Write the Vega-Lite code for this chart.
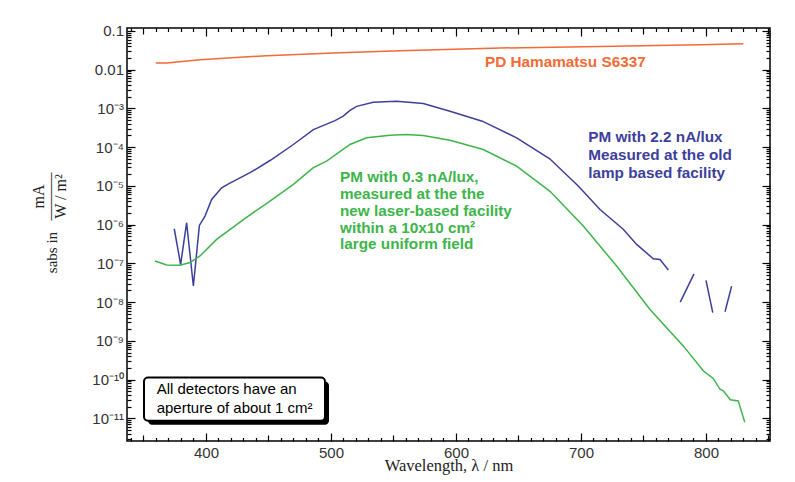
{
  "$schema": "https://vega.github.io/schema/vega-lite/v6.json",
  "width": 643,
  "height": 413,
  "autosize": {"type": "none"},
  "padding": {"left": 127, "top": 28, "right": 25, "bottom": 41},
  "background": "white",
  "config": {
    "view": {"stroke": "#000", "strokeWidth": 1.5},
    "axis": {
      "domain": false,
      "grid": false,
      "labelFont": "Liberation Sans",
      "labelFontSize": 15,
      "labelColor": "#333",
      "tickColor": "#000",
      "tickWidth": 1.2
    }
  },
  "datasets": {
    "lines": [
      {"s": "PD", "w": 359.8, "v": 0.0149},
      {"s": "PD", "w": 368.6, "v": 0.0149},
      {"s": "PD", "w": 395.2, "v": 0.0181},
      {"s": "PD", "w": 448.6, "v": 0.023},
      {"s": "PD", "w": 501.8, "v": 0.0269},
      {"s": "PD", "w": 555.2, "v": 0.0309},
      {"s": "PD", "w": 635.2, "v": 0.0362},
      {"s": "PD", "w": 715.2, "v": 0.0398},
      {"s": "PD", "w": 795.2, "v": 0.044},
      {"s": "PD", "w": 829.8, "v": 0.0468},
      {"s": "PM22", "w": 374.6, "v": 7.83e-7},
      {"s": "PM22", "w": 379.7, "v": 9.33e-8},
      {"s": "PM22", "w": 384.5, "v": 1.12e-6},
      {"s": "PM22", "w": 389.9, "v": 2.6e-8},
      {"s": "PM22", "w": 394.7, "v": 9.55e-7},
      {"s": "PM22", "w": 399.2, "v": 1.66e-6},
      {"s": "PM22", "w": 404.5, "v": 4.47e-6},
      {"s": "PM22", "w": 412.5, "v": 8.91e-6},
      {"s": "PM22", "w": 418.0, "v": 1.13e-5},
      {"s": "PM22", "w": 435.2, "v": 2.19e-5},
      {"s": "PM22", "w": 451.2, "v": 4.52e-5},
      {"s": "PM22", "w": 469.9, "v": 1.17e-4},
      {"s": "PM22", "w": 485.9, "v": 2.84e-4},
      {"s": "PM22", "w": 503.2, "v": 4.85e-4},
      {"s": "PM22", "w": 509.8, "v": 6.31e-4},
      {"s": "PM22", "w": 515.2, "v": 8.91e-4},
      {"s": "PM22", "w": 520.5, "v": 1.13e-3},
      {"s": "PM22", "w": 533.8, "v": 1.45e-3},
      {"s": "PM22", "w": 552.5, "v": 1.52e-3},
      {"s": "PM22", "w": 573.8, "v": 1.33e-3},
      {"s": "PM22", "w": 595.2, "v": 8.41e-4},
      {"s": "PM22", "w": 621.0, "v": 4.68e-4},
      {"s": "PM22", "w": 648.5, "v": 1.74e-4},
      {"s": "PM22", "w": 675.0, "v": 5.01e-5},
      {"s": "PM22", "w": 698.0, "v": 9.77e-6},
      {"s": "PM22", "w": 715.2, "v": 2.45e-6},
      {"s": "PM22", "w": 733.8, "v": 7.59e-7},
      {"s": "PM22", "w": 744.5, "v": 3.09e-7},
      {"s": "PM22", "w": 757.8, "v": 1.32e-7},
      {"s": "PM22", "w": 763.2, "v": 1.26e-7},
      {"s": "PM22", "w": 769.9, "v": 6.76e-8},
      {"s": "PM03", "w": 359.2, "v": 1.15e-7},
      {"s": "PM03", "w": 368.5, "v": 9.12e-8},
      {"s": "PM03", "w": 379.2, "v": 8.91e-8},
      {"s": "PM03", "w": 387.2, "v": 1.05e-7},
      {"s": "PM03", "w": 395.2, "v": 1.55e-7},
      {"s": "PM03", "w": 408.5, "v": 4.17e-7},
      {"s": "PM03", "w": 429.9, "v": 1.35e-6},
      {"s": "PM03", "w": 451.2, "v": 4.07e-6},
      {"s": "PM03", "w": 469.9, "v": 1.1e-5},
      {"s": "PM03", "w": 485.9, "v": 2.95e-5},
      {"s": "PM03", "w": 496.5, "v": 4.37e-5},
      {"s": "PM03", "w": 515.2, "v": 1.17e-4},
      {"s": "PM03", "w": 528.5, "v": 1.74e-4},
      {"s": "PM03", "w": 547.2, "v": 2.04e-4},
      {"s": "PM03", "w": 560.0, "v": 2.11e-4},
      {"s": "PM03", "w": 573.8, "v": 2.0e-4},
      {"s": "PM03", "w": 595.2, "v": 1.51e-4},
      {"s": "PM03", "w": 621.8, "v": 8.71e-5},
      {"s": "PM03", "w": 648.5, "v": 3.24e-5},
      {"s": "PM03", "w": 675.2, "v": 7.24e-6},
      {"s": "PM03", "w": 702.0, "v": 9.12e-7},
      {"s": "PM03", "w": 728.5, "v": 8.51e-8},
      {"s": "PM03", "w": 755.2, "v": 6.46e-9},
      {"s": "PM03", "w": 781.8, "v": 7.41e-10},
      {"s": "PM03", "w": 798.0, "v": 1.66e-10},
      {"s": "PM03", "w": 805.8, "v": 1.07e-10},
      {"s": "PM03", "w": 811.2, "v": 5.62e-11},
      {"s": "PM03", "w": 813.8, "v": 5.13e-11},
      {"s": "PM03", "w": 819.5, "v": 3.02e-11},
      {"s": "PM03", "w": 825.8, "v": 2.82e-11},
      {"s": "PM03", "w": 831.0, "v": 7.94e-12}
    ],
    "frag": [
      {"g": 1, "w": 779.4, "v": 1.0e-8},
      {"g": 1, "w": 790.4, "v": 5.37e-8},
      {"g": 2, "w": 800.0, "v": 3.63e-8},
      {"g": 2, "w": 805.4, "v": 5.37e-9},
      {"g": 3, "w": 815.2, "v": 5.62e-9},
      {"g": 3, "w": 820.5, "v": 2.57e-8}
    ],
    "shadow": [{"x1": 353.6, "x2": 498.4, "y1": 8.9e-11, "y2": 6.87e-12}],
    "box": [{"x1": 350.4, "x2": 495.2, "y1": 1.13e-10, "y2": 8.7e-12}],
    "note": [
      {"w": 360.5, "v": 5.66e-11, "t": "All detectors have an"},
      {"w": 360.5, "v": 1.9e-11, "t": "aperture of about 1 cm²"}
    ],
    "labels": [
      {"s": "PD", "w": 623.2, "v": 0.0154, "t": "PD Hamamatsu S6337"},
      {"s": "PM22", "w": 705.8, "v": 1.8e-4, "t": "PM with 2.2 nA/lux"},
      {"s": "PM22", "w": 705.8, "v": 6.18e-5, "t": "Measured at the old"},
      {"s": "PM22", "w": 705.8, "v": 2.18e-5, "t": "lamp based  facility"},
      {"s": "PM03", "w": 507.2, "v": 1.67e-5, "t": "PM with 0.3 nA/lux,"},
      {"s": "PM03", "w": 507.2, "v": 6.25e-6, "t": "measured at the the"},
      {"s": "PM03", "w": 507.2, "v": 2.23e-6, "t": "new laser-based facility"},
      {"s": "PM03", "w": 507.2, "v": 8.32e-7, "t": "within a 10x10 cm²"},
      {"s": "PM03", "w": 507.2, "v": 3.09e-7, "t": "large uniform field"}
    ]
  },
  "layer": [
    {
      "data": {"name": "lines"},
      "mark": {"type": "line", "strokeWidth": 1.5},
      "encoding": {
        "x": {
          "field": "w", "type": "quantitative",
          "scale": {"domain": [336.8, 851.2], "nice": false, "zero": false},
          "axis": {
            "orient": "bottom", "values": [400, 500, 600, 700, 800], "tickSize": -8, "labelPadding": 12,
            "format": "d",
            "title": "Wavelength, λ / nm", "titleFont": "Liberation Serif", "titleFontSize": 16.5,
            "titleFontWeight": "normal", "titleColor": "#222", "titleBaseline": "alphabetic", "titleY": 29
          }
        },
        "y": {
          "field": "v", "type": "quantitative",
          "scale": {"type": "log", "domain": [2.6e-12, 0.119], "nice": false},
          "axis": {
            "orient": "left", "tickSize": -8, "labelPadding": 11.5,
            "values": [1e-11, 1e-10, 1e-9, 1e-8, 1e-7, 1e-6, 1e-5, 1e-4, 1e-3, 0.01, 0.1],
            "labelExpr": "datum.value > 0.05 ? '0.1' : datum.value > 0.005 ? '0.01' : datum.value > 5e-4 ? '10⁻³' : datum.value > 5e-5 ? '10⁻⁴' : datum.value > 5e-6 ? '10⁻⁵' : datum.value > 5e-7 ? '10⁻⁶' : datum.value > 5e-8 ? '10⁻⁷' : datum.value > 5e-9 ? '10⁻⁸' : datum.value > 5e-10 ? '10⁻⁹' : datum.value > 5e-11 ? '10⁻¹⁰' : '10⁻¹¹'",
            "title": "sabs in",
            "titleFont": "Liberation Serif", "titleFontSize": 15, "titleFontWeight": "normal", "titleColor": "#222",
            "titleX": -76, "titleY": 224, "titleAlign": "center", "titleBaseline": "middle", "titleAngle": -90
          }
        },
        "color": {
          "field": "s", "type": "nominal",
          "scale": {"domain": ["PD", "PM22", "PM03"], "range": ["#f26a35", "#3e3f9c", "#3db54a"]},
          "legend": null
        }
      }
    },
    {
      "data": {"name": "frag"},
      "mark": {"type": "line", "strokeWidth": 1.5, "color": "#3e3f9c"},
      "encoding": {
        "x": {
          "field": "w", "type": "quantitative",
          "scale": {"domain": [336.8, 851.2], "nice": false, "zero": false},
          "axis": {"orient": "bottom", "values": [350, 450, 550, 650, 750, 850], "tickSize": -6, "labels": false, "title": null}
        },
        "y": {
          "field": "v", "type": "quantitative",
          "scale": {"type": "log", "domain": [2.6e-12, 0.119], "nice": false},
          "axis": {
            "orient": "left", "tickSize": -4, "labels": false,
            "title": ["mA", "———", "W / m²"],
            "titleFont": "Liberation Serif", "titleFontSize": 16, "titleFontWeight": "normal", "titleColor": "#222",
            "titleLineHeight": 11, "titleX": -89, "titleY": 168, "titleAlign": "center", "titleBaseline": "middle", "titleAngle": -90,
            "values": [3e-12,4e-12,5e-12,6e-12,7e-12,8e-12,9e-12,2e-11,3e-11,4e-11,5e-11,6e-11,7e-11,8e-11,9e-11,2e-10,3e-10,4e-10,5e-10,6e-10,7e-10,8e-10,9e-10,2e-9,3e-9,4e-9,5e-9,6e-9,7e-9,8e-9,9e-9,2e-8,3e-8,4e-8,5e-8,6e-8,7e-8,8e-8,9e-8,2e-7,3e-7,4e-7,5e-7,6e-7,7e-7,8e-7,9e-7,2e-6,3e-6,4e-6,5e-6,6e-6,7e-6,8e-6,9e-6,2e-5,3e-5,4e-5,5e-5,6e-5,7e-5,8e-5,9e-5,2e-4,3e-4,4e-4,5e-4,6e-4,7e-4,8e-4,9e-4,2e-3,3e-3,4e-3,5e-3,6e-3,7e-3,8e-3,9e-3,0.02,0.03,0.04,0.05,0.06,0.07,0.08,0.09]
          }
        },
        "detail": {"field": "g", "type": "nominal"}
      }
    },
    {
      "data": {"name": "shadow"},
      "mark": {"type": "rect", "fill": "#000", "cornerRadius": 4},
      "encoding": {
        "x": {
          "field": "x1", "type": "quantitative",
          "scale": {"domain": [336.8, 851.2], "nice": false, "zero": false},
          "axis": {"orient": "bottom", "values": [340,360,370,380,390,410,420,430,440,460,470,480,490,510,520,530,540,560,570,580,590,610,620,630,640,660,670,680,690,710,720,730,740,760,770,780,790,810,820,830,840], "tickSize": -3.5, "labels": false, "title": null}
        },
        "x2": {"field": "x2"},
        "y": {
          "field": "y1", "type": "quantitative",
          "scale": {"type": "log", "domain": [2.6e-12, 0.119], "nice": false},
          "axis": {"orient": "right", "tickSize": -8, "labels": false, "title": null,
            "values": [1e-11, 1e-10, 1e-9, 1e-8, 1e-7, 1e-6, 1e-5, 1e-4, 1e-3, 0.01, 0.1]}
        },
        "y2": {"field": "y2"}
      }
    },
    {
      "data": {"name": "box"},
      "mark": {"type": "rect", "fill": "#fff", "stroke": "#000", "strokeWidth": 2, "cornerRadius": 4},
      "encoding": {
        "x": {
          "field": "x1", "type": "quantitative",
          "scale": {"domain": [336.8, 851.2], "nice": false, "zero": false},
          "axis": {"orient": "top", "values": [400, 500, 600, 700, 800], "tickSize": -8, "labels": false, "title": null}
        },
        "x2": {"field": "x2"},
        "y": {
          "field": "y1", "type": "quantitative",
          "scale": {"type": "log", "domain": [2.6e-12, 0.119], "nice": false},
          "axis": {
            "orient": "right", "tickSize": -4, "labels": false, "title": null,
            "values": [3e-12,4e-12,5e-12,6e-12,7e-12,8e-12,9e-12,2e-11,3e-11,4e-11,5e-11,6e-11,7e-11,8e-11,9e-11,2e-10,3e-10,4e-10,5e-10,6e-10,7e-10,8e-10,9e-10,2e-9,3e-9,4e-9,5e-9,6e-9,7e-9,8e-9,9e-9,2e-8,3e-8,4e-8,5e-8,6e-8,7e-8,8e-8,9e-8,2e-7,3e-7,4e-7,5e-7,6e-7,7e-7,8e-7,9e-7,2e-6,3e-6,4e-6,5e-6,6e-6,7e-6,8e-6,9e-6,2e-5,3e-5,4e-5,5e-5,6e-5,7e-5,8e-5,9e-5,2e-4,3e-4,4e-4,5e-4,6e-4,7e-4,8e-4,9e-4,2e-3,3e-3,4e-3,5e-3,6e-3,7e-3,8e-3,9e-3,0.02,0.03,0.04,0.05,0.06,0.07,0.08,0.09]
          }
        },
        "y2": {"field": "y2"}
      }
    },
    {
      "data": {"name": "note"},
      "mark": {"type": "text", "align": "left", "baseline": "middle", "font": "Liberation Sans", "fontSize": 15, "color": "#000"},
      "encoding": {
        "x": {
          "field": "w", "type": "quantitative",
          "scale": {"domain": [336.8, 851.2], "nice": false, "zero": false},
          "axis": {"orient": "top", "values": [350, 450, 550, 650, 750, 850], "tickSize": -6, "labels": false, "title": null}
        },
        "y": {
          "field": "v", "type": "quantitative",
          "scale": {"type": "log", "domain": [2.6e-12, 0.119], "nice": false},
          "axis": null
        },
        "text": {"field": "t"}
      }
    },
    {
      "data": {"name": "labels"},
      "mark": {"type": "text", "align": "left", "baseline": "middle", "font": "Liberation Sans", "fontSize": 15.3, "fontWeight": "bold"},
      "encoding": {
        "x": {
          "field": "w", "type": "quantitative",
          "scale": {"domain": [336.8, 851.2], "nice": false, "zero": false},
          "axis": {"orient": "top", "values": [340,360,370,380,390,410,420,430,440,460,470,480,490,510,520,530,540,560,570,580,590,610,620,630,640,660,670,680,690,710,720,730,740,760,770,780,790,810,820,830,840], "tickSize": -3.5, "labels": false, "title": null}
        },
        "y": {
          "field": "v", "type": "quantitative",
          "scale": {"type": "log", "domain": [2.6e-12, 0.119], "nice": false},
          "axis": null
        },
        "text": {"field": "t"},
        "color": {
          "field": "s", "type": "nominal",
          "scale": {"domain": ["PD", "PM22", "PM03"], "range": ["#f26a35", "#3e3f9c", "#3db54a"]},
          "legend": null
        }
      }
    }
  ],
  "resolve": {"axis": {"x": "independent", "y": "independent"}}
}
